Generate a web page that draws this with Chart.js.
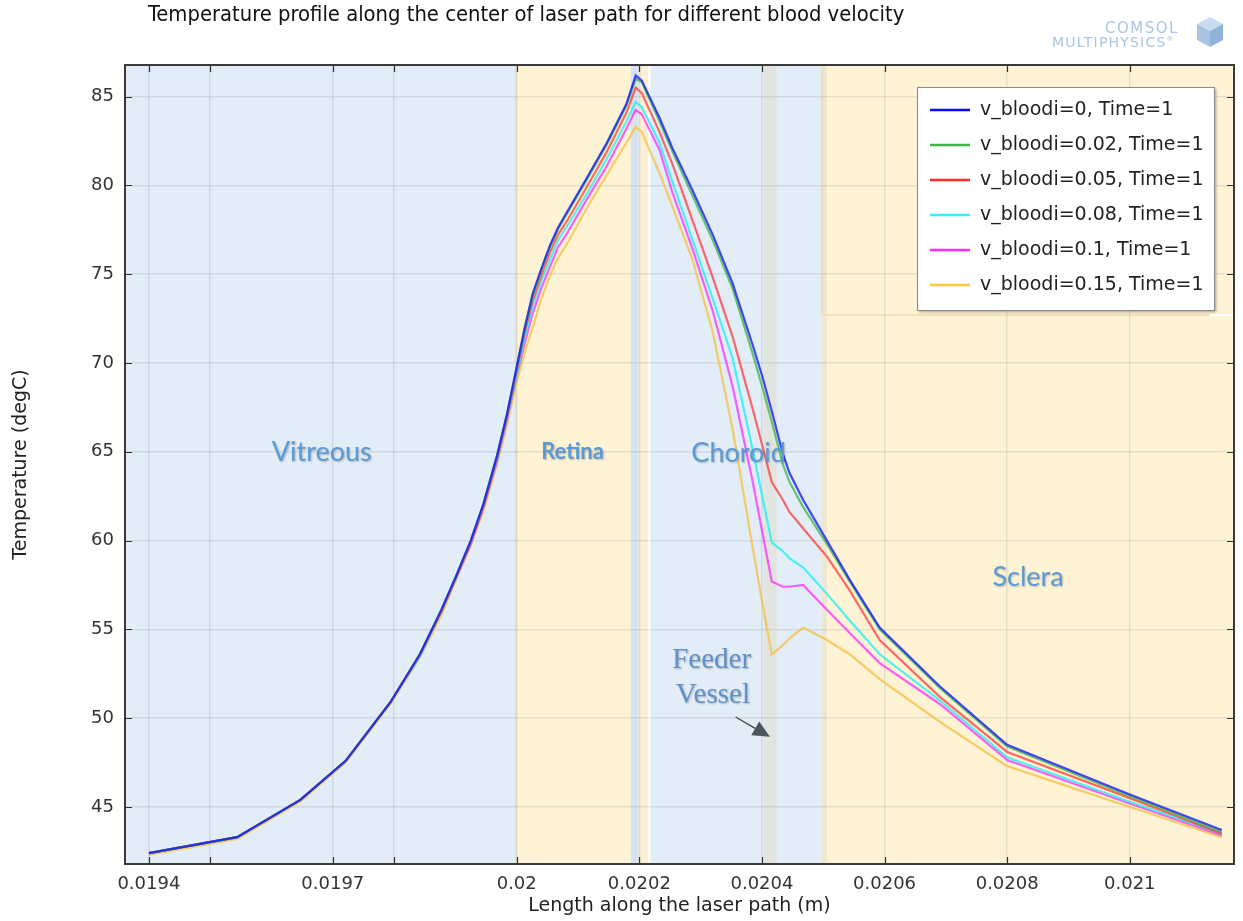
<!DOCTYPE html>
<html>
<head>
<meta charset="utf-8">
<script src="https://cdn.jsdelivr.net/npm/chart.js@4/dist/chart.umd.min.js"></script>
<style>
	html, body { margin: 0; padding: 0; background: #fff; }
	#wrap { position: relative; width: 1243px; height: 921px; overflow: hidden; }
	#grafico { position: absolute; left: 0; top: 0; }
	#titulo {
		position: absolute; left: 148px; top: 1px;
		font-family: 'DejaVu Sans Condensed', 'DejaVu Sans', sans-serif;
		font-stretch: condensed; font-size: 21.8px; color: #111; white-space: nowrap;
	}
	#logo { position: absolute; left: 1040px; top: 14px; width: 200px; height: 36px; color: #a9c6e4; font-family: 'DejaVu Sans', sans-serif; }
	#logo .l1 { position: absolute; left: 65px; top: 5px; font-size: 15px; letter-spacing: 1.5px; }
	#logo .l2 { position: absolute; left: 12px; top: 20px; font-size: 14px; letter-spacing: 1.2px; }
	#logo svg { position: absolute; left: 156px; top: 2px; }
</style>
</head>
<body>
<div id="wrap">
	<canvas id="grafico" width="1243" height="921"></canvas>
	<div id="titulo">Temperature profile along the center of laser path for different blood velocity</div>
	<div id="logo">
		<span class="l1">COMSOL</span>
		<span class="l2">MULTIPHYSICS<sup style="font-size:7px">®</sup></span>
		<svg width="28" height="32" viewBox="0 0 28 32">
			<polygon points="14,1 27,8 14,15 1,8" fill="#c9dcef"/>
			<polygon points="1,8 14,15 14,31 1,24" fill="#a7c4e2"/>
			<polygon points="27,8 14,15 14,31 27,24" fill="#8fb3d9"/>
		</svg>
	</div>
</div>
<script>
(function () {
	// posiciones a lo largo del trayecto del láser (m)
	var posicionX = [
		0.0194, 0.019544, 0.019647, 0.019721, 0.019794, 0.019842, 0.019877,
		0.019901, 0.019925, 0.019946, 0.019968, 0.019984, 0.02,
		0.020013, 0.020026, 0.02004, 0.020054, 0.020067, 0.020082, 0.020114, 0.020147, 0.020179, 0.020194,
		0.020204, 0.020233, 0.020254, 0.020287, 0.02032, 0.020352, 0.020385, 0.020401, 0.020416,
		0.020434, 0.020445, 0.020467, 0.020506, 0.020543, 0.020592, 0.02069, 0.0208, 0.021, 0.02115
	];

	// temperatura (degC) para cada velocidad de sangre
	var tempV0 = [
		42.4, 43.3, 45.4, 47.6, 50.9, 53.6, 56.1,
		58.0, 60.0, 62.1, 64.8, 67.1, 69.8,
		72.0, 73.9, 75.3, 76.6, 77.6, 78.5, 80.4, 82.4, 84.6, 86.2,
		85.9, 83.8, 82.1, 79.7, 77.2, 74.5, 71.0, 69.2, 67.3,
		64.9, 63.8, 62.3, 60.0, 57.8, 55.1, 51.8, 48.5, 45.7, 43.7
	];
	var tempV002 = [
		42.4, 43.3, 45.4, 47.6, 50.9, 53.6, 56.1,
		58.0, 60.0, 62.1, 64.8, 67.1, 69.7,
		71.9, 73.8, 75.2, 76.5, 77.5, 78.4, 80.3, 82.3, 84.5, 86.0,
		85.8, 83.6, 81.9, 79.4, 76.9, 74.2, 70.5, 68.6, 66.7,
		64.3, 63.3, 61.9, 59.8, 57.7, 55.0, 51.7, 48.4, 45.6, 43.6
	];
	var tempV005 = [
		42.4, 43.3, 45.4, 47.6, 50.9, 53.6, 56.0,
		57.9, 59.9, 62.0, 64.7, 67.0, 69.6,
		71.7, 73.5, 74.9, 76.2, 77.2, 78.0, 79.9, 81.9, 84.1, 85.5,
		85.2, 83.0, 81.2, 78.0, 74.8, 71.5, 67.4, 65.3, 63.3,
		62.3, 61.6, 60.7, 59.1, 57.2, 54.4, 51.2, 48.1, 45.5, 43.5
	];
	var tempV008 = [
		42.4, 43.3, 45.4, 47.6, 50.9, 53.5, 56.0,
		57.9, 59.9, 62.0, 64.6, 66.9, 69.4,
		71.4, 73.2, 74.6, 75.8, 76.9, 77.7, 79.5, 81.5, 83.6, 84.7,
		84.4, 82.4, 80.2, 76.9, 73.6, 70.3, 65.1, 62.4, 59.9,
		59.4, 59.0, 58.5, 57.0, 55.5, 53.6, 51.0, 47.8, 45.3, 43.5
	];
	var tempV01 = [
		42.4, 43.3, 45.4, 47.6, 50.9, 53.5, 56.0,
		57.9, 59.8, 61.9, 64.5, 66.8, 69.3,
		71.1, 72.8, 74.2, 75.4, 76.5, 77.3, 79.2, 81.1, 83.2, 84.25,
		84.0, 82.0, 79.6, 76.4, 72.9, 68.7, 63.3, 60.4, 57.7,
		57.4, 57.4, 57.5, 56.1, 54.8, 53.1, 50.8, 47.65, 45.2, 43.4
	];
	var tempV015 = [
		42.3, 43.2, 45.3, 47.5, 50.8, 53.4, 55.8,
		57.8, 59.7, 61.7, 64.3, 66.5, 68.9,
		70.6, 72.0, 73.6, 74.9, 75.9, 76.7, 78.7, 80.6, 82.4, 83.3,
		83.0, 80.7, 78.8, 75.8, 71.7, 66.3, 59.6, 56.4, 53.6,
		54.1, 54.5, 55.1, 54.4, 53.6, 52.2, 49.8, 47.3, 45.0, 43.3
	];

	var etiquetasSerie = [
		'v_bloodi=0, Time=1', 'v_bloodi=0.02, Time=1', 'v_bloodi=0.05, Time=1',
		'v_bloodi=0.08, Time=1', 'v_bloodi=0.1, Time=1', 'v_bloodi=0.15, Time=1'
	];
	var ticksX = [0.0194, 0.0195, 0.0197, 0.0198, 0.02, 0.0202, 0.0204, 0.0206, 0.0208, 0.021];
	var etiquetasTicksX = ['0.0194', '', '0.0197', '', '0.02', '0.0202', '0.0204', '0.0206', '0.0208', '0.021'];
	var ticksY = [45, 50, 55, 60, 65, 70, 75, 80, 85];

	var series = [tempV0, tempV002, tempV005, tempV008, tempV01, tempV015];
	var colorLinea = ['rgba(20,20,255,0.78)', 'rgba(50,180,60,0.72)', 'rgba(255,45,45,0.7)',
		'rgba(20,240,245,0.75)', 'rgba(255,30,255,0.7)', 'rgba(245,195,70,0.8)'];
	var colorLeyenda = ['#0a0aff', '#3cb64a', '#ff2a2a', '#2af5f5', '#ff2aff', '#ffc640'];

	var azul = '#e3edf7';
	var amarillo = '#fff3d6';

	// franjas de tejido (m)
	var zonas = [
		{ desde: 0.019, hasta: 0.02, color: azul },
		{ desde: 0.019997, hasta: 0.02, color: '#e9e2c6' },
		{ desde: 0.02, hasta: 0.020186, color: amarillo },
		{ desde: 0.020186, hasta: 0.020199, color: '#d5e2f0' },
		{ desde: 0.020199, hasta: 0.020215, color: '#fbefd4' },
		{ desde: 0.020215, hasta: 0.020218, color: '#ffffff' },
		{ desde: 0.020218, hasta: 0.020498, color: azul },
		{ desde: 0.020403, hasta: 0.020424, color: '#e2e5df' },
		{ desde: 0.020498, hasta: 0.020507, color: '#efe8d0' },
		{ desde: 0.020507, hasta: 0.022, color: amarillo }
	];

	var rotulos = [
		{ texto: 'Vitreous', x: 0.019682, y: 65.0, font: '27px Lato, sans-serif' },
		{ texto: 'Retina', x: 0.020091, y: 65.0, font: 'bold 22px Lato, sans-serif' },
		{ texto: 'Choroid', x: 0.020362, y: 64.94, font: '27px Lato, sans-serif' },
		{ texto: 'Sclera', x: 0.020834, y: 57.96, font: '27px Lato, sans-serif' },
		{ texto: 'Feeder', x: 0.020318, y: 53.23, font: '29px "Liberation Serif", serif', color: '#6091c8' },
		{ texto: 'Vessel', x: 0.02032, y: 51.31, font: '29px "Liberation Serif", serif', color: '#6091c8' }
	];

	function puntos(serie) {
		return posicionX.map(function (x, i) { return { x: x, y: serie[i] }; });
	}

	var pluginFondo = {
		id: 'fondoZonas',
		beforeDraw: function (chart) {
			var ctx = chart.ctx, a = chart.chartArea, sx = chart.scales.x, sy = chart.scales.y;
			ctx.save();
			ctx.beginPath();
			ctx.rect(a.left, a.top, a.right - a.left, a.bottom - a.top);
			ctx.clip();
			zonas.forEach(function (z) {
				var x0 = sx.getPixelForValue(z.desde), x1 = sx.getPixelForValue(z.hasta);
				ctx.fillStyle = z.color;
				ctx.fillRect(x0, a.top, x1 - x0, a.bottom - a.top);
			});
			// recuadro tenue detrás de la leyenda
			var lx = sx.getPixelForValue(0.020498), ly = sy.getPixelForValue(72.7);
			ctx.strokeStyle = 'rgba(235,215,165,0.8)';
			ctx.lineWidth = 1.5;
			ctx.beginPath();
			ctx.moveTo(lx, a.top + 3);
			ctx.lineTo(lx, ly);
			ctx.lineTo(a.right, ly);
			ctx.stroke();
			ctx.fillStyle = '#ffffff';
			ctx.fillRect(a.right - 24, ly - 1, 24, 2);
			ctx.restore();
		}
	};

	var pluginAnotaciones = {
		id: 'anotaciones',
		afterDatasetsDraw: function (chart) {
			var ctx = chart.ctx, sx = chart.scales.x, sy = chart.scales.y;
			ctx.save();
			ctx.textAlign = 'center';
			ctx.textBaseline = 'middle';
			rotulos.forEach(function (r) {
				ctx.font = r.font;
				ctx.fillStyle = r.color || '#5b9bd5';
				ctx.shadowColor = 'rgba(0,0,0,0.25)';
				ctx.shadowBlur = 2;
				ctx.shadowOffsetX = 1;
				ctx.shadowOffsetY = 1;
				ctx.fillText(r.texto, sx.getPixelForValue(r.x), sy.getPixelForValue(r.y));
			});
			ctx.shadowColor = 'transparent';

			// flecha hacia el vaso nutricio
			var x0 = sx.getPixelForValue(0.020357), y0 = sy.getPixelForValue(50.07);
			var x1 = sx.getPixelForValue(0.020413), y1 = sy.getPixelForValue(48.95);
			var ang = Math.atan2(y1 - y0, x1 - x0);
			var largo = 17, ancho = 8;
			var bx = x1 - largo * Math.cos(ang), by = y1 - largo * Math.sin(ang);
			ctx.strokeStyle = '#3c4650';
			ctx.lineWidth = 1.3;
			ctx.beginPath();
			ctx.moveTo(x0, y0);
			ctx.lineTo(bx, by);
			ctx.stroke();
			ctx.fillStyle = '#4a545e';
			ctx.beginPath();
			ctx.moveTo(x1, y1);
			ctx.lineTo(bx + ancho * Math.sin(ang), by - ancho * Math.cos(ang));
			ctx.lineTo(bx - ancho * Math.sin(ang), by + ancho * Math.cos(ang));
			ctx.closePath();
			ctx.fill();
			ctx.restore();
		},
		afterDraw: function (chart) {
			var ctx = chart.ctx, a = chart.chartArea, sx = chart.scales.x, sy = chart.scales.y;
			ctx.save();
			// marcas hacia adentro en los cuatro lados
			ctx.strokeStyle = '#333';
			ctx.lineWidth = 1.2;
			ctx.beginPath();
			ticksX.forEach(function (v) {
				var px = Math.round(sx.getPixelForValue(v)) + 0.5;
				ctx.moveTo(px, a.bottom); ctx.lineTo(px, a.bottom - 7);
				ctx.moveTo(px, a.top); ctx.lineTo(px, a.top + 7);
			});
			ticksY.forEach(function (v) {
				var py = Math.round(sy.getPixelForValue(v)) + 0.5;
				ctx.moveTo(a.left, py); ctx.lineTo(a.left + 7, py);
				ctx.moveTo(a.right, py); ctx.lineTo(a.right - 7, py);
			});
			ctx.stroke();
			ctx.strokeStyle = '#3a3a3a';
			ctx.lineWidth = 2;
			ctx.strokeRect(a.left, a.top, a.right - a.left, a.bottom - a.top);

			// leyenda
			var lx = a.right - 317, ly = a.top + 22, lw = 297, lh = 223;
			ctx.fillStyle = 'rgba(0,0,0,0.35)';
			ctx.filter = 'blur(1.5px)';
			ctx.fillRect(lx + 2, ly + 2, lw, lh);
			ctx.filter = 'none';
			ctx.fillStyle = '#fff';
			ctx.fillRect(lx, ly, lw, lh);
			ctx.strokeStyle = '#8a8a8a';
			ctx.lineWidth = 1;
			ctx.strokeRect(lx + 0.5, ly + 0.5, lw, lh);
			ctx.font = '19px "DejaVu Sans", sans-serif';
			ctx.textAlign = 'left';
			ctx.textBaseline = 'middle';
			etiquetasSerie.forEach(function (txt, i) {
				var fy = ly + 23 + i * 35;
				ctx.strokeStyle = colorLeyenda[i];
				ctx.lineWidth = 2.5;
				ctx.beginPath();
				ctx.moveTo(lx + 13, fy);
				ctx.lineTo(lx + 53, fy);
				ctx.stroke();
				ctx.fillStyle = '#222';
				ctx.fillText(txt, lx + 63, fy);
			});
			ctx.restore();
		}
	};

	new Chart(document.getElementById('grafico'), {
		type: 'line',
		data: {
			datasets: series.map(function (s, i) {
				return {
					label: etiquetasSerie[i],
					data: puntos(s),
					borderColor: colorLinea[i],
					borderWidth: 2.2,
					pointRadius: 0,
					tension: 0,
					fill: false
				};
			})
		},
		options: {
			responsive: false,
			animation: false,
			layout: { padding: { top: 65, right: 9, bottom: 0, left: 0 } },
			plugins: { legend: { display: false }, tooltip: { enabled: false } },
			scales: {
				x: {
					type: 'linear',
					min: 0.019361,
					max: 0.02117,
					afterBuildTicks: function (scale) {
						scale.ticks = ticksX.map(function (v) { return { value: v }; });
					},
					afterFit: function (scale) { scale.height = 57; },
					grid: { color: 'rgba(110,120,130,0.16)', lineWidth: 1.5, drawTicks: false },
					border: { display: false },
					ticks: {
						autoSkip: false, maxRotation: 0, padding: 10,
						color: '#333', font: { family: 'DejaVu Sans', size: 18 },
						callback: function (v, i) { return etiquetasTicksX[i]; }
					},
					title: {
						display: true, text: 'Length along the laser path (m)',
						color: '#222', font: { family: 'DejaVu Sans', size: 19 },
						padding: { top: 0, bottom: 4 }
					}
				},
				y: {
					min: 41.79,
					max: 86.78,
					afterBuildTicks: function (scale) {
						scale.ticks = ticksY.map(function (v) { return { value: v }; });
					},
					afterFit: function (scale) { scale.width = 125; },
					grid: { color: 'rgba(110,120,130,0.16)', lineWidth: 1.5, drawTicks: false },
					border: { display: false },
					ticks: {
						padding: 11, color: '#333', font: { family: 'DejaVu Sans', size: 18 }
					},
					title: {
						display: true, text: 'Temperature (degC)',
						color: '#222', font: { family: 'DejaVu Sans', size: 19 },
						padding: { top: 10, bottom: 0 }
					}
				}
			}
		},
		plugins: [pluginFondo, pluginAnotaciones]
	});
})();
</script>
</body>
</html>
